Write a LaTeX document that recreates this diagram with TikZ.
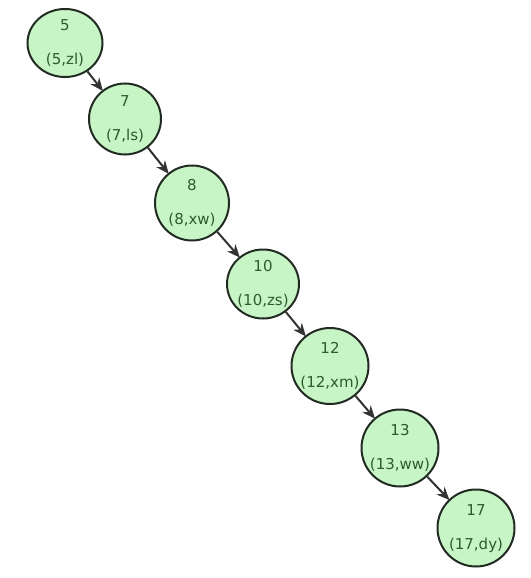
\documentclass[tikz,border=0pt]{standalone}
\usepackage{fontspec}
\setmainfont{DejaVu Sans}
\usetikzlibrary{arrows.meta,shapes.geometric}
\definecolor{nodefill}{HTML}{C8F5C6}
\definecolor{nodeline}{HTML}{222B22}
\definecolor{txt}{HTML}{2E5A30}
\definecolor{edgecol}{HTML}{333333}
\tikzset{
  tnode/.style={ellipse, draw=nodeline, line width=2pt, fill=nodefill, inner sep=0pt},
  keytxt/.style={text=txt, font=\fontsize{15}{17}\selectfont},
  edge/.style={draw=edgecol, line width=2pt, -{Stealth[length=13pt,width=11pt]}, shorten >=-1pt}
}
\begin{document}
\begin{tikzpicture}[x=1pt,y=-1pt]
\useasboundingbox (0,0) rectangle (530,578);
\node[tnode, minimum width=75pt, minimum height=68pt] (n5) at (65,43) {};
\node[tnode, minimum width=72pt, minimum height=71pt] (n7) at (125,119) {};
\node[tnode, minimum width=74pt, minimum height=75pt] (n8) at (192,203) {};
\node[tnode, minimum width=72pt, minimum height=69pt] (n10) at (263,284) {};
\node[tnode, minimum width=77pt, minimum height=76pt] (n12) at (330,366) {};
\node[tnode, minimum width=77pt, minimum height=77pt] (n13) at (400,448) {};
\node[tnode, minimum width=77pt, minimum height=77pt] (n17) at (476,528) {};
\foreach \n/\k/\l in {n5/5/{(5,zl)}, n7/7/{(7,ls)}, n8/8/{(8,xw)}, n10/10/{(10,zs)}, n12/12/{(12,xm)}, n13/13/{(13,ww)}, n17/17/{(17,dy)}}{
  \node[keytxt] at ([yshift=18pt]\n.center) {\k};
  \node[keytxt] at ([yshift=-17pt]\n.center) {\l};
}
\draw[edge] (n5) -- (n7);
\draw[edge] (n7) -- (n8);
\draw[edge] (n8) -- (n10);
\draw[edge] (n10) -- (n12);
\draw[edge] (n12) -- (n13);
\draw[edge] (n13) -- (n17);
\end{tikzpicture}
\end{document}
